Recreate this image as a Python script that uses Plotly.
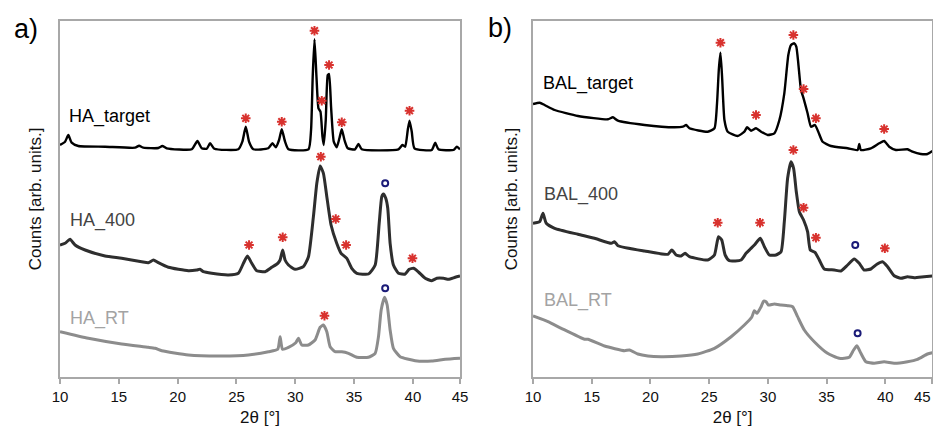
import plotly.graph_objects as go
from plotly.subplots import make_subplots

# ---------------- data (2θ in degrees, counts in arb. units) ----------------
ha_target_x = [10.0, 10.43, 10.71, 10.99, 11.56, 13.83, 16.38, 16.72, 17.09, 18.36, 18.7, 19.07, 21.2, 21.68, 22.05, 22.47, 22.76, 23.12, 25.16, 25.5, 25.79, 26.07, 26.44, 27.7, 28.06, 28.34, 28.62, 28.85, 29.13, 29.42, 31.12, 31.34, 31.48, 31.63, 31.8, 31.97, 32.14, 32.31, 32.42, 32.59, 32.76, 32.87, 33.04, 33.27, 33.52, 33.75, 33.95, 34.18, 34.46, 35.08, 35.37, 35.65, 38.77, 39.11, 39.34, 39.56, 39.71, 39.9, 40.13, 41.6, 41.89, 42.17, 43.45, 43.73, 44.0]
ha_target_y = [232, 235.3, 242, 234.3, 231, 230.3, 229.3, 231.3, 229.3, 229, 231, 228.7, 227.7, 236, 228.7, 228.3, 233.7, 228.3, 227.7, 235.3, 250.3, 235.3, 227.7, 228.7, 233.7, 229.7, 237, 247.7, 235.3, 227.7, 227.7, 247, 300.3, 337.7, 300.3, 268.7, 265.3, 240.3, 232, 257, 302, 303, 270.3, 235.3, 229.7, 238.7, 247.7, 237, 228.7, 227.7, 233, 227.7, 227.7, 232, 230.3, 247, 256.3, 245.3, 228.7, 227, 234.3, 227.7, 227, 230.3, 227.7]

ha_400_x = [10.0, 10.43, 10.85, 11.28, 12.13, 13.83, 15.24, 16.94, 17.51, 17.94, 18.36, 19.21, 20.91, 21.62, 21.9, 22.19, 22.9, 24.31, 25.16, 25.59, 25.93, 26.3, 26.72, 27.43, 28.0, 28.51, 28.71, 28.93, 29.13, 29.42, 29.98, 30.69, 31.12, 31.54, 31.83, 32.11, 32.39, 32.68, 33.04, 33.52, 33.89, 34.38, 34.8, 35.23, 36.22, 36.79, 37.13, 37.35, 37.49, 37.69, 37.86, 38.06, 38.34, 38.77, 39.34, 39.68, 40.05, 40.47, 41.04, 41.6, 42.03, 42.6, 43.02, 43.59, 44.0]
ha_400_y = [132, 133.7, 137.7, 132, 127, 121, 118.7, 115.3, 114.3, 117, 114.3, 109.7, 106.3, 107, 107.7, 105.3, 103.7, 102, 103.7, 113.7, 121, 113.7, 106.3, 105.3, 109.7, 113.7, 117, 127, 117, 112, 107.7, 110.3, 120.3, 160.3, 193.7, 211, 203.7, 180.3, 152, 133.7, 123.7, 118.7, 108.7, 103.7, 103, 112, 153.7, 180.3, 183, 178.7, 168.7, 133.7, 112, 103.7, 103, 107.7, 108.7, 105, 98.7, 96.3, 98.7, 98.7, 97.7, 99.7, 101]

ha_rt_x = [10.0, 12.41, 15.24, 17.51, 18.08, 18.65, 20.91, 23.75, 26.01, 27.72, 28.51, 28.71, 28.91, 29.42, 30.04, 30.27, 30.55, 31.12, 31.68, 32.11, 32.39, 32.68, 32.96, 33.38, 33.95, 34.52, 35.23, 36.22, 36.79, 37.07, 37.3, 37.58, 37.81, 38.06, 38.34, 38.91, 40.19, 41.6, 42.74, 44.0]
ha_rt_y = [45.3, 38.7, 33, 29.7, 28.7, 26.3, 22, 21, 22, 25.3, 27.7, 40.3, 27.7, 29.7, 34.3, 38.7, 32, 32, 37, 49.7, 52, 45.3, 30.3, 25.3, 25.3, 23.7, 19.7, 19.7, 23.7, 40.3, 67, 79.7, 72, 47, 28.7, 20.3, 16.3, 16, 17.7, 18.7]

bal_target_x = [10.0, 10.57, 10.99, 11.84, 13.83, 16.38, 16.8, 17.23, 19.5, 22.05, 22.76, 23.04, 23.32, 24.88, 25.45, 25.67, 25.82, 25.96, 26.1, 26.3, 26.58, 27.43, 28.0, 28.23, 28.57, 28.99, 29.42, 29.98, 30.55, 30.98, 31.4, 31.74, 31.97, 32.25, 32.42, 32.59, 32.82, 33.04, 33.38, 33.67, 34.01, 34.29, 34.66, 35.37, 36.79, 37.64, 37.78, 37.92, 38.77, 39.48, 39.9, 40.33, 40.9, 41.89, 42.31, 43.02, 43.59, 44.0]
bal_target_y = [273, 274.3, 272, 267, 261, 257.7, 259.7, 256.3, 252, 249.7, 250.3, 252, 248.7, 245.3, 248.7, 273.7, 307, 324.3, 300.3, 257, 245.3, 241, 245.3, 249.7, 246.3, 248.7, 245.3, 242, 243.7, 257, 283.7, 322, 332, 333.7, 330.3, 313.7, 287, 278.7, 263.7, 250.3, 252, 245.3, 235.3, 231, 228.7, 227, 233, 227, 228.7, 233.7, 236, 230.3, 227, 227.7, 225.3, 223, 223, 226]

bal_400_x = [10.0, 10.57, 10.85, 11.13, 11.84, 13.83, 15.24, 16.66, 16.94, 17.23, 19.5, 21.48, 21.82, 22.19, 22.61, 22.95, 23.32, 24.88, 25.45, 25.79, 26.07, 26.36, 26.72, 27.72, 28.14, 28.51, 28.85, 29.36, 29.7, 30.12, 30.69, 31.12, 31.4, 31.68, 31.97, 32.19, 32.42, 32.68, 33.04, 33.38, 33.61, 34.01, 34.38, 34.8, 35.65, 36.22, 36.79, 37.35, 37.78, 38.2, 38.77, 39.28, 39.76, 40.19, 40.75, 41.32, 41.89, 42.46, 43.3, 44.0]
bal_400_y = [153.7, 155.3, 163.7, 153.7, 148.7, 142.7, 138.7, 133.7, 135.3, 131.3, 126, 122.7, 127, 122, 121, 123.7, 120.3, 117, 122, 140.3, 137, 122, 116.3, 117, 123.7, 128, 132, 138.7, 130.3, 122, 122, 125.3, 155.3, 198.7, 215.3, 208.7, 185.3, 165.3, 157, 145.3, 127, 124.7, 117, 108, 107, 106, 112, 118, 113.7, 107, 108, 112.7, 115.3, 110.3, 101.3, 98.7, 100.3, 99.3, 100.3, 101]

bal_rt_x = [10.0, 11.28, 12.41, 14.39, 14.68, 16.09, 17.79, 18.22, 18.93, 19.78, 20.91, 22.61, 24.03, 25.45, 26.87, 28.0, 28.62, 28.85, 29.08, 29.42, 29.64, 29.84, 30.04, 30.55, 31.12, 31.68, 32.11, 32.53, 33.1, 33.95, 35.08, 36.07, 36.93, 37.3, 37.58, 37.92, 38.34, 39.05, 39.9, 40.75, 41.89, 42.74, 43.59, 44.0]
bal_rt_y = [61, 55.3, 48.7, 37.7, 37.7, 31, 26.3, 27, 23, 21, 20.3, 21, 23, 28.7, 40.3, 52, 59.7, 66.3, 63.7, 70.3, 76, 75.3, 72, 73, 72, 71.3, 70.3, 60.3, 47, 35.3, 23.7, 18.7, 19.7, 27, 31.3, 23.7, 15.3, 13.7, 15.3, 13.7, 15.3, 17.7, 23, 24.3]

# reflex markers: * = HA / apatite phase, o = second phase
stars_a_x = [31.63, 32.87, 32.25, 25.79, 28.85, 33.95, 39.71, 32.17, 33.44, 34.32, 26.07, 28.93, 39.96, 32.48]
stars_a_y = [346.3, 312, 276.3, 258.7, 255.3, 254.7, 266.3, 220.3, 158, 132, 132, 139.7, 118.7, 61.3]
circles_a_x = [37.64, 37.64]
circles_a_y = [193.7, 88.7]

stars_b_x = [25.96, 32.17, 33.04, 34.09, 28.99, 39.9, 32.17, 33.04, 34.09, 25.73, 29.33, 39.96]
stars_b_y = [334.3, 342, 288, 258.7, 262, 248, 227, 169.3, 139.3, 154.3, 154.3, 128.7]
circles_b_x = [37.44, 37.64]
circles_b_y = [132, 43.7]

tick_vals = [10, 15, 20, 25, 30, 35, 40, 44]
tick_text = ["10", "15", "20", "25", "30", "35", "40", "45"]

labels_a = ["HA_target", "HA_400", "HA_RT"]
labels_a_pos = [(10.57, 260.3), (10.71, 157), (10.68, 58.7)]
labels_b = ["BAL_target", "BAL_400", "BAL_RT"]
labels_b_pos = [(10.65, 293), (10.77, 182.7), (10.77, 77)]

# ---------------- styling ----------------
# The page body has an 8px default margin; the figure is sized so the page never
# overflows the 941x435 window. Positions below are window pixels.
OFF = 8
W, H = 941 - 2 * OFF, 435 - 2 * OFF
FONT = "Liberation Sans, Arial, sans-serif"
C_TARGET, C_400, C_RT = "#000000", "#2e2e2e", "#8c8c8c"
L_TARGET, L_400, L_RT = "#000000", "#444444", "#a3a3a3"
STAR = "#d8322e"
CIRC = "#1b1b78"
FRAME = "#a8a8a8"
TXT = "#111111"

def px_x(p):
    return (p - OFF) / W

def px_y(p):
    return 1 - (p - OFF) / H

fig = make_subplots(rows=1, cols=2)

def add_curve(x, y, color, width, col):
    fig.add_trace(go.Scatter(x=x, y=y, mode="lines",
                             line=dict(color=color, width=width, shape="spline", smoothing=0.5),
                             showlegend=False, hoverinfo="skip"), row=1, col=col)

add_curve(ha_target_x, ha_target_y, C_TARGET, 2.4, 1)
add_curve(ha_400_x, ha_400_y, C_400, 3, 1)
add_curve(ha_rt_x, ha_rt_y, C_RT, 3, 1)
add_curve(bal_target_x, bal_target_y, C_TARGET, 2.4, 2)
add_curve(bal_400_x, bal_400_y, C_400, 3, 2)
add_curve(bal_rt_x, bal_rt_y, C_RT, 3, 2)

def add_marks(x, y, symbol, color, size, col):
    fig.add_trace(go.Scatter(x=x, y=y, mode="markers",
                             marker=dict(symbol=symbol, size=size, color=color,
                                         line=dict(color=color, width=2)),
                             showlegend=False, hoverinfo="skip"), row=1, col=col)

add_marks(stars_a_x, stars_a_y, "asterisk", STAR, 8, 1)
add_marks(circles_a_x, circles_a_y, "circle-open", CIRC, 6, 1)
add_marks(stars_b_x, stars_b_y, "asterisk", STAR, 8, 2)
add_marks(circles_b_x, circles_b_y, "circle-open", CIRC, 6, 2)

xa = dict(range=[10, 44], tickvals=tick_vals, showline=True, mirror=True,
          linecolor=FRAME, linewidth=1.5, ticks="outside", ticklen=5, tickcolor=FRAME, tickwidth=1.5,
          showgrid=False, zeroline=False, automargin=False, ticklabeloverflow="allow",
          tickfont=dict(family=FONT, size=15, color=TXT),
          title=dict(text="2θ [°]", font=dict(family=FONT, size=17, color=TXT), standoff=14))
ya = dict(range=[0, 356], showline=True, mirror=True, linecolor=FRAME, linewidth=1.5,
          showticklabels=False, ticks="", showgrid=False, zeroline=False, automargin=False)

# the right panel ends at the page edge: its last label is right-aligned there
tick_text_b = tick_text[:-1] + [""]

ydom = [px_y(377), px_y(21)]
fig.update_layout(
    width=W, height=H, margin=dict(l=0, r=0, t=0, b=0, autoexpand=False),
    paper_bgcolor="white", plot_bgcolor="white",
    xaxis=dict(domain=[px_x(60), px_x(460)], ticktext=tick_text, **xa),
    xaxis2=dict(domain=[px_x(533), px_x(932.3)], ticktext=tick_text_b, **xa),
    yaxis=dict(domain=ydom, title=dict(text="Counts [arb. units.]", standoff=12,
               font=dict(family=FONT, size=17, color=TXT)), **ya),
    yaxis2=dict(domain=ydom, title=dict(text="Counts [arb. units.]", standoff=9,
                font=dict(family=FONT, size=17, color=TXT)), **ya),
)

fig.add_annotation(x=1, y=px_y(377 + 9), xref="paper", yref="paper", text=tick_text[-1],
                   showarrow=False, xanchor="right", yanchor="top",
                   font=dict(family=FONT, size=15, color=TXT))

label_colors = [L_TARGET, L_400, L_RT]
for txt, (lx, ly), c in zip(labels_a, labels_a_pos, label_colors):
    fig.add_annotation(x=lx, y=ly, xref="x", yref="y", text=txt, showarrow=False,
                       xanchor="left", yanchor="middle", font=dict(family=FONT, size=18, color=c))
for txt, (lx, ly), c in zip(labels_b, labels_b_pos, label_colors):
    fig.add_annotation(x=lx, y=ly, xref="x2", yref="y2", text=txt, showarrow=False,
                       xanchor="left", yanchor="middle", font=dict(family=FONT, size=18, color=c))

fig.add_annotation(x=px_x(26), y=px_y(29), xref="paper", yref="paper", text="a)", showarrow=False,
                   xanchor="center", yanchor="middle", font=dict(family=FONT, size=27, color="#000"))
fig.add_annotation(x=px_x(500), y=px_y(28), xref="paper", yref="paper", text="b)", showarrow=False,
                   xanchor="center", yanchor="middle", font=dict(family=FONT, size=27, color="#000"))

fig.write_html("out.html")
